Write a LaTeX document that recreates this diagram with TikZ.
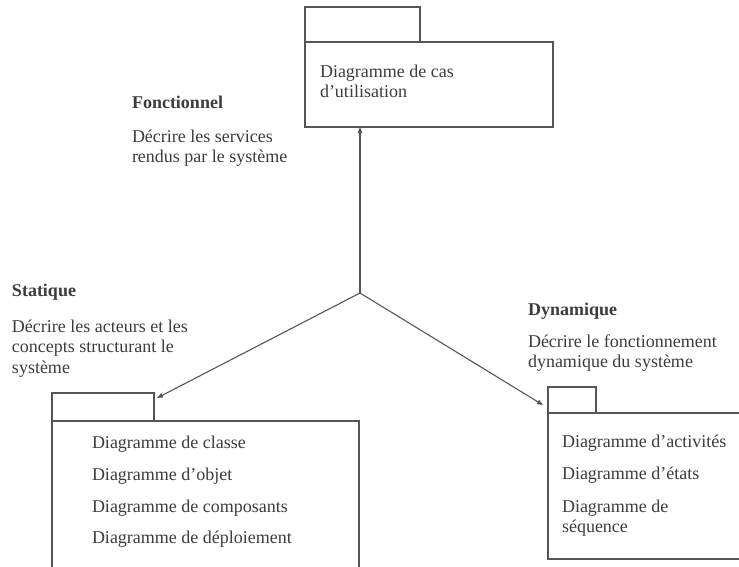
\documentclass[tikz,border=0pt]{standalone}
\usepackage{fontspec}
\setmainfont{Liberation Serif}
\usetikzlibrary{positioning,arrows.meta}
\definecolor{inkgray}{HTML}{3C3C3C}
\definecolor{linegray}{HTML}{555555}

\begin{document}
\begin{tikzpicture}[x=1pt,y=-1pt,
  every node/.style={inner sep=0pt,outer sep=0pt},
  pkgbody/.style={draw=linegray,line width=1.2pt,anchor=north west},
  pkgtab/.style={draw=linegray,line width=1.2pt,anchor=south west},
  lbl/.style={text=inkgray,font=\fontsize{18}{20.5}\selectfont,anchor=base west,align=left},
  head/.style={lbl,font=\fontsize{18}{20.5}\selectfont\bfseries},
  link/.style={draw=linegray,line width=1.1pt,-{Triangle[length=6pt,width=4.5pt]}}]

\clip (0,0) rectangle (739,566);

% cas d'utilisation
\node[pkgbody,minimum width=248pt,minimum height=85pt] (usebody) at (305,42) {};
\node[pkgtab,minimum width=115pt,minimum height=35pt] (usetab) at (usebody.north west) {};
\node[lbl,below right=55.5pt and 15pt of usebody.north west,anchor=base west] (usetxt) {Diagramme de cas\\d’utilisation};

% statique
\node[pkgbody,minimum width=307pt,minimum height=170pt] (clsbody) at (52,421) {};
\node[pkgtab,minimum width=102pt,minimum height=28pt] (clstab) at (clsbody.north west) {};
\node[lbl,below right=27pt and 40pt of clsbody.north west,anchor=base west] (cls1) {Diagramme de classe};
\node[lbl,below=32pt of cls1.base west,anchor=base west] (cls2) {Diagramme d’objet};
\node[lbl,below=32pt of cls2.base west,anchor=base west] (cls3) {Diagramme de composants};
\node[lbl,below=31pt of cls3.base west,anchor=base west] (cls4) {Diagramme de déploiement};

% dynamique
\node[pkgbody,minimum width=220pt,minimum height=146pt] (dynbody) at (548,413) {};
\node[pkgtab,minimum width=48pt,minimum height=26pt] (dyntab) at (dynbody.north west) {};
\node[lbl,below right=34pt and 14pt of dynbody.north west,anchor=base west] (dyn1) {Diagramme d’activités};
\node[lbl,below=32pt of dyn1.base west,anchor=base west] (dyn2) {Diagramme d’états};
\node[lbl,below=53.5pt of dyn2.base west,anchor=base west] (dyn3) {Diagramme de\\séquence};

% titres et descriptions
\node[head] (fonc) at (132,108) {Fonctionnel};
\node[lbl,below=54.5pt of fonc.base west,anchor=base west] (foncdesc) {Décrire les services\\rendus par le système};
\node[head] (stat) at (12,296) {Statique};
\node[lbl,below=77pt of stat.base west,anchor=base west] (statdesc) {Décrire les acteurs et les\\concepts structurant le\\système};
\node[head] (dyn) at (528,315) {Dynamique};
\node[lbl,below=52.5pt of dyn.base west,anchor=base west] (dyndesc) {Décrire le fonctionnement\\dynamique du système};

% fleches
\coordinate (hub) at (360,293);
\draw[link] (hub) -- (hub |- usebody.south);
\draw[link] (hub) -- ([xshift=3pt,yshift=-5pt]clstab.north east);
\draw[link] (hub) -- ([xshift=-5pt,yshift=-5pt]dyntab.west);
\end{tikzpicture}
\end{document}
